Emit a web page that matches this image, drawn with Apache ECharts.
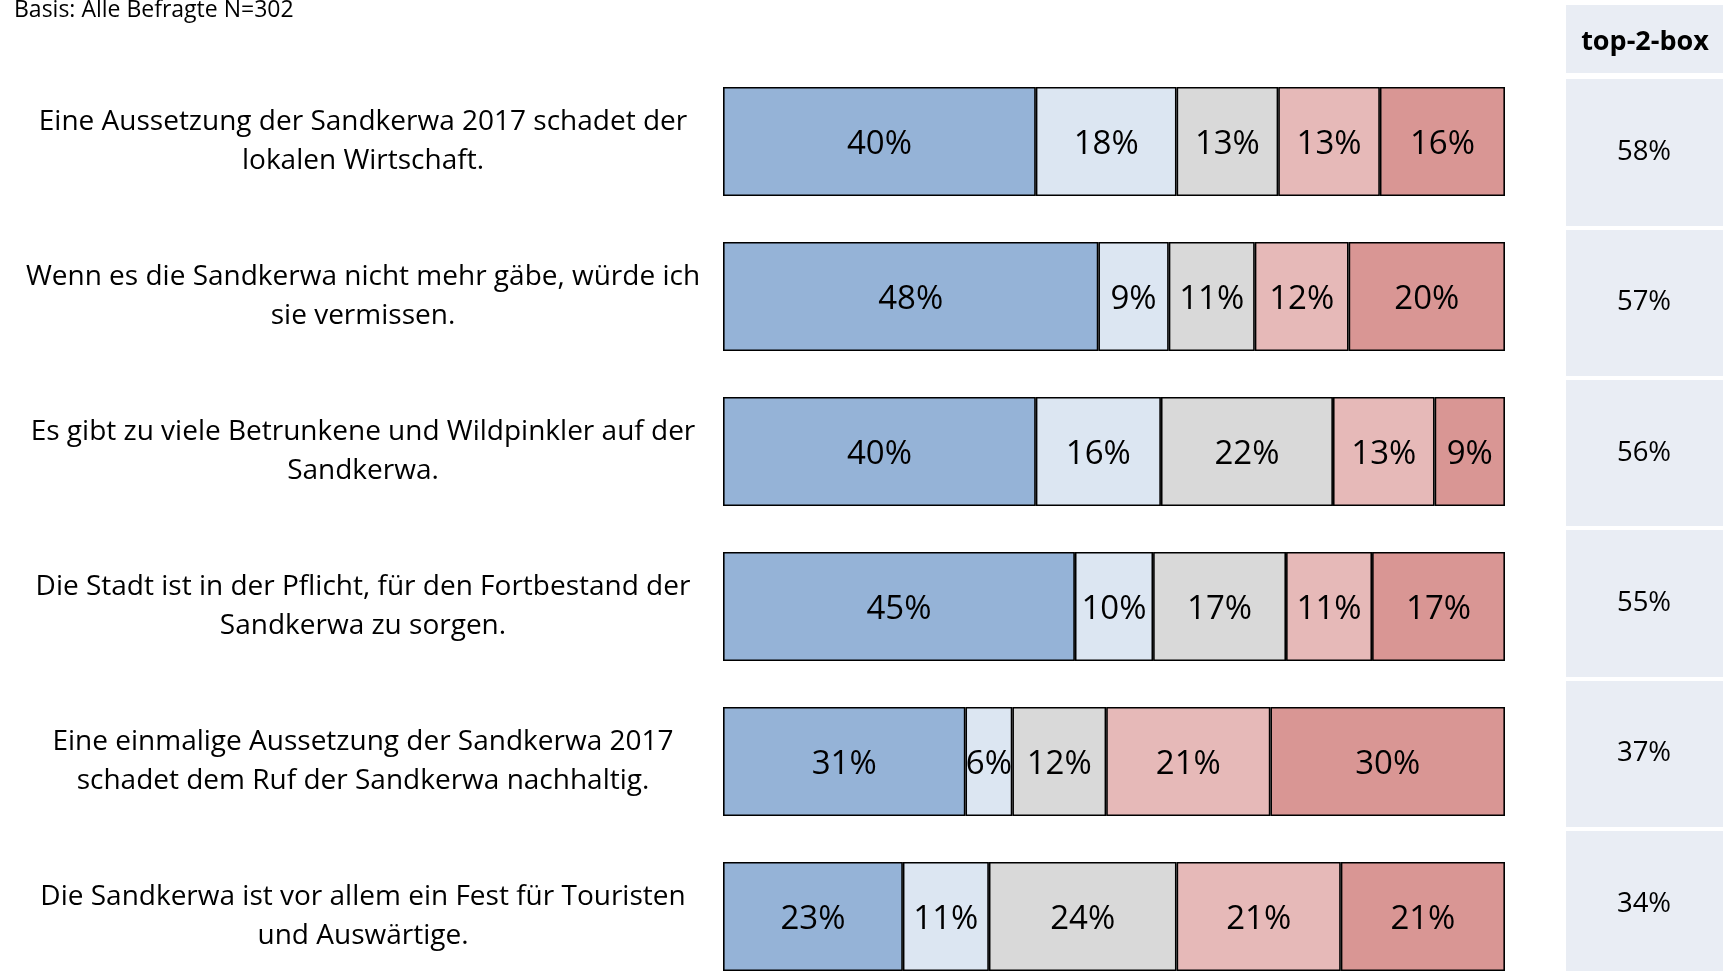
<!DOCTYPE html>
<html><head><meta charset="utf-8">
<script src="https://cdn.jsdelivr.net/npm/echarts@6/dist/echarts.min.js"></script>
<style>html,body{margin:0;padding:0;background:#fff;overflow:hidden}#c{width:1723px;height:1000px}</style>
</head><body><div id="c"></div>
<script>
const statements = [
  "Eine Aussetzung der Sandkerwa 2017 schadet der\nlokalen Wirtschaft.",
  "Wenn es die Sandkerwa nicht mehr gäbe, würde ich\nsie vermissen.",
  "Es gibt zu viele Betrunkene und Wildpinkler auf der\nSandkerwa.",
  "Die Stadt ist in der Pflicht, für den Fortbestand der\nSandkerwa zu sorgen.",
  "Eine einmalige Aussetzung der Sandkerwa 2017\nschadet dem Ruf der Sandkerwa nachhaltig.",
  "Die Sandkerwa ist vor allem ein Fest für Touristen\nund Auswärtige."
];
const seriesNames = ["1", "2", "3", "4", "5"];
const s1 = [40, 48, 40, 45, 31, 23];
const s2 = [18, 9, 16, 10, 6, 11];
const s3 = [13, 11, 22, 17, 12, 24];
const s4 = [13, 12, 13, 11, 21, 21];
const s5 = [16, 20, 9, 17, 30, 21];
const top2 = [58, 57, 56, 55, 37, 34];
const basisText = "Basis: Alle Befragte N=302";
const top2Header = "top-2-box";

const colors = ["#95B3D7", "#DCE6F2", "#D9D9D9", "#E6B9B8", "#D99694"];
const values = [s1, s2, s3, s4, s5];
const FONT = "'Open Sans', sans-serif";

const chart = echarts.init(document.getElementById('c'));
chart.setOption({
  backgroundColor: '#fff',
  animation: false,
  title: {
    text: basisText, left: 9, top: -6,
    textStyle: { fontFamily: FONT, fontSize: 23, fontWeight: 'normal', color: '#000' }
  },
  graphic: [{
    type: 'group', left: 1566, top: 5,
    children: [
      { type: 'rect', shape: { x: 0, y: 0, width: 157, height: 68 }, style: { fill: '#E9EDF4' } },
      { type: 'text', x: 79, y: 37, style: { text: top2Header, fontFamily: FONT, fontSize: 27, fontWeight: 'bold', fill: '#000', align: 'center', verticalAlign: 'middle' } }
    ]
  }],
  grid: [
    { left: 723, width: 782, top: 64, height: 930 },
    { left: 1566, right: 0, top: 77, height: 902 }
  ],
  xAxis: [
    { gridIndex: 0, type: 'value', min: 0, max: 100, show: false },
    { gridIndex: 1, type: 'value', min: 0, max: 1, show: false }
  ],
  yAxis: [
    {
      gridIndex: 0, type: 'category', inverse: true, data: statements,
      axisLine: { show: false }, axisTick: { show: false },
      axisLabel: { fontFamily: FONT, fontSize: 28, color: '#000', lineHeight: 39, align: 'center', margin: 360 }
    },
    {
      gridIndex: 1, type: 'category', inverse: true, data: top2.map(v => v + '%'),
      axisLine: { show: false }, axisTick: { show: false },
      splitArea: { show: true, areaStyle: { color: ['#E9EDF4'] } },
      splitLine: { show: true, lineStyle: { color: '#fff', width: 4 } },
      axisLabel: { inside: true, fontFamily: FONT, fontSize: 27.5, color: '#000', align: 'center', margin: 78, padding: [4, 0, 0, 0] }
    }
  ],
  series: values.map((arr, i) => ({
    name: seriesNames[i], type: 'bar', stack: 'all', xAxisIndex: 0, yAxisIndex: 0,
    barWidth: 109, data: arr,
    itemStyle: { color: colors[i], borderColor: '#000', borderWidth: 1.6 },
    label: { show: true, position: 'inside', offset: [0, 3], formatter: '{c}%', fontFamily: FONT, fontSize: 33, color: '#000' }
  }))
});
</script></body></html>
